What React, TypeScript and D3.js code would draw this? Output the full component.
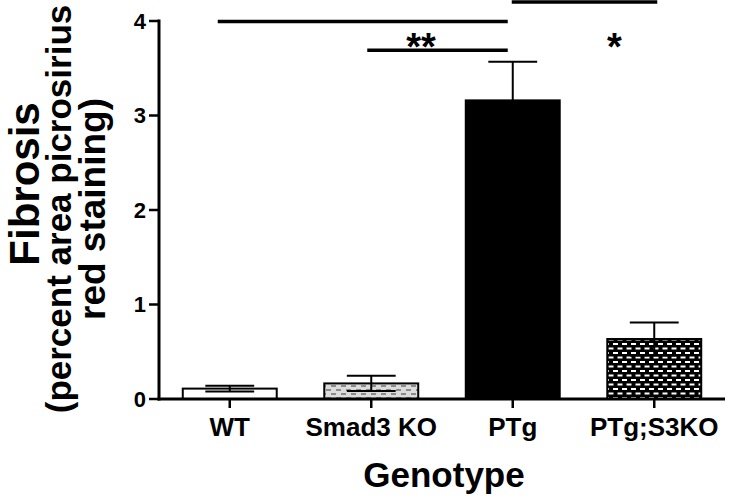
import React from "react";
import * as d3 from "d3";

const categories = ["WT", "Smad3 KO", "PTg", "PTg;S3KO"];
const means = [0.11, 0.165, 3.16, 0.635];
const sems = [0.03, 0.08, 0.41, 0.175];
const yTicks = [0, 1, 2, 3, 4];
const fills = ["#ffffff", "url(#stipple)", "#000000", "url(#brick)"];
// significance brackets
const sigLines = [
  { from: "WT", to: "PTg", y: 3.995, dx1: -12, dx2: -5 },
  { from: "Smad3 KO", to: "PTg", y: 3.69, dx1: -4, dx2: -5 },
  { from: "PTg", to: "PTg;S3KO", y: 4.2, dx1: -1, dx2: 3 },
];
const sigLabels = [
  { text: "**", between: ["Smad3 KO", "PTg"], y: 3.59, dx: -21 },
  { text: "*", between: ["PTg", "PTg;S3KO"], y: 3.59, dx: 31 },
];

export default function App() {
  const W = 735, H = 500;
  const x = d3.scaleBand<string>().domain(categories).range([159, 725]).paddingInner(0.336).paddingOuter(0.168);
  const y = d3.scaleLinear().domain([0, 4]).range([399, 21]);
  const font = "Arial, 'Liberation Sans', sans-serif";
  const bw = x.bandwidth();
  const cx = (c: string) => (x(c) as number) + bw / 2;
  return (
    <svg width={W} height={H} style={{ position: "absolute", left: 0, top: 0, background: "#fff" }} fontFamily={font}>
      <defs>
        <pattern id="stipple" width="10" height="8" patternUnits="userSpaceOnUse">
          <rect width="10" height="8" fill="#dcdcdc" />
          <rect x="1" y="1" width="5" height="2" fill="#8a8a8a" />
          <rect x="6" y="5" width="5" height="2" fill="#8a8a8a" />
          <rect x="-4" y="5" width="5" height="2" fill="#8a8a8a" />
        </pattern>
        <pattern id="brick" width="9" height="9" patternUnits="userSpaceOnUse">
          <rect width="9" height="9" fill="#000" />
          <rect x="1" y="1" width="5" height="2" fill="#fff" />
          <rect x="5.5" y="5.5" width="5" height="2" fill="#fff" />
          <rect x="-3.5" y="5.5" width="5" height="2" fill="#fff" />
        </pattern>
      </defs>
      {/* bars */}
      {categories.map((c, i) => (
        <rect key={c} x={x(c)} y={y(means[i])} width={bw} height={y(0) - y(means[i])}
          fill={fills[i]} stroke="#000" strokeWidth={2} />
      ))}
      {/* error bars */}
      {categories.map((c, i) => {
        const xc = cx(c);
        const hw = bw * 0.26;
        const top = y(means[i] + sems[i]);
        const bot = y(Math.max(0, means[i] - sems[i]));
        return (
          <g key={"e" + c} stroke="#000" strokeWidth={2}>
            <line x1={xc} x2={xc} y1={top} y2={bot} />
            <line x1={xc - hw} x2={xc + hw} y1={top} y2={top} />
            <line x1={xc - hw} x2={xc + hw} y1={bot} y2={bot} />
          </g>
        );
      })}
      {/* y axis */}
      <line x1={159} x2={159} y1={y(4) - 1.5} y2={y(0) + 1.5} stroke="#000" strokeWidth={3} />
      {yTicks.map((t) => (
        <g key={t}>
          <line x1={149} x2={159} y1={y(t)} y2={y(t)} stroke="#000" strokeWidth={2.5} />
          <text x={146} y={y(t)} dy="0.36em" textAnchor="end" fontSize={22} fontWeight="bold">{t}</text>
        </g>
      ))}
      {/* x axis */}
      <line x1={157.5} x2={725} y1={y(0)} y2={y(0)} stroke="#000" strokeWidth={3} />
      {categories.map((c) => (
        <g key={"t" + c}>
          <line x1={cx(c)} x2={cx(c)} y1={y(0)} y2={y(0) + 9} stroke="#000" strokeWidth={2.5} />
          <text x={cx(c)} y={436} textAnchor="middle" fontSize={26} fontWeight="bold">{c}</text>
        </g>
      ))}
      {/* axis titles */}
      <text x={444} y={487} textAnchor="middle" fontSize={35} fontWeight="bold">Genotype</text>
      <g transform="rotate(-90)" fontWeight="bold" textAnchor="middle">
        <text x={-184} y={39} fontSize={42}>Fibrosis</text>
        <text x={-209} y={71} fontSize={35}>(percent area picrosirius</text>
        <text x={-209} y={105} fontSize={37}>red staining)</text>
      </g>
      {/* significance */}
      {sigLines.map((s, i) => (
        <line key={"s" + i} x1={cx(s.from) + s.dx1} x2={cx(s.to) + s.dx2} y1={y(s.y)} y2={y(s.y)} stroke="#000" strokeWidth={3.5} />
      ))}
      {sigLabels.map((s, i) => (
        <text key={"l" + i} x={(cx(s.between[0]) + cx(s.between[1])) / 2 + s.dx} y={y(s.y)}
          textAnchor="middle" fontSize={38} fontWeight="bold">{s.text}</text>
      ))}
    </svg>
  );
}
